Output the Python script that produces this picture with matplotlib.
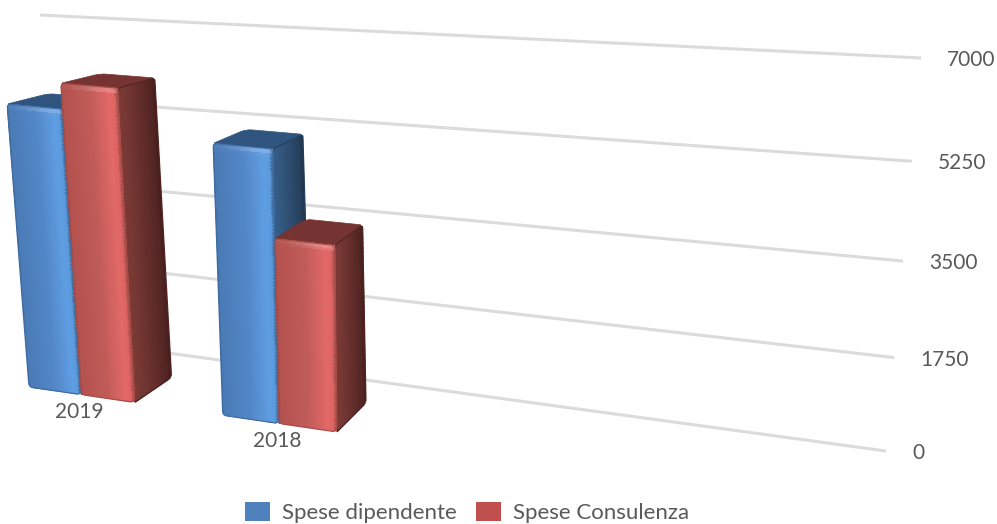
import numpy as np
import matplotlib
matplotlib.use('Agg')
import matplotlib.pyplot as plt
from matplotlib.patches import Patch, PathPatch
from matplotlib.path import Path
from matplotlib.colors import to_rgb

plt.rcParams['font.family'] = ['Lato', 'DejaVu Sans']

categories = ['2019', '2018']
series_names = ['Spese dipendente', 'Spese Consulenza']
spese_dipendente = [5560, 5190]
spese_consulenza = [6030, 3560]
ticks = [0, 1750, 3500, 5250, 7000]
tick_labels = ['0', '1750', '3500', '5250', '7000']

VMAX = 7000
TEXT = '#595959'
GRID = '#dbdbdb'
LEGEND_COLORS = ['#4f81bd', '#c0504d']

# colour stops across each face: front, side, top
FACE_COLORS = [
    {'front': [(0, '#3c6798'), (0.04, '#4a7bb6'), (0.5, '#5286c6'), (0.86, '#5f9de2'), (0.95, '#5c9ade'), (1, '#3a6694')],
     'side': [(0, '#375f8d'), (0.25, '#33587f'), (0.9, '#263f5c'), (1, '#1f344d')],
     'top': '#2f547d', 'edge': '#3f6c9f'},
    {'front': [(0, '#984442'), (0.04, '#b4524f'), (0.5, '#c05b58'), (0.86, '#e26967'), (0.95, '#dc6461'), (1, '#a34c49')],
     'side': [(0, '#7e3a36'), (0.25, '#743633'), (0.9, '#522523'), (1, '#451e1c')],
     'top': '#753431', 'edge': '#a84c49'},
]


def homography(src, dst):
    a = []
    b = []
    for (x, y), (px, py) in zip(src, dst):
        a.append([x, y, 1, 0, 0, 0, -px * x, -px * y])
        a.append([0, 0, 0, x, y, 1, -py * x, -py * y])
        b += [px, py]
    return np.append(np.linalg.solve(np.array(a, float), np.array(b, float)), 1).reshape(3, 3)


def project(h, u, v):
    u, v = np.broadcast_arrays(np.asarray(u, float), np.asarray(v, float))
    w = h[2, 0] * u + h[2, 1] * v + h[2, 2]
    return (h[0, 0] * u + h[0, 1] * v + h[0, 2]) / w, (h[1, 0] * u + h[1, 1] * v + h[1, 2]) / w


# perspective planes in slot units (one bar wide) and data values
SLOTS = 5.6
corners = [(0, 0), (SLOTS, 0), (0, VMAX), (SLOTS, VMAX)]
FRONT = homography(corners, [(29, 387), (337, 432), (1, 25), (333, 50)])
BACK = homography(corners, [(69, 364), (366, 403), (43, 19), (359, 41)])
WALL = homography([(0, 0), (1, 0), (0, VMAX), (1, VMAX)], [(58, 338), (886, 451), (40, 15), (921, 58)])
GROUP_START = [0, 3.6]


def point(u, v, d):
    fx, fy = project(FRONT, u, v)
    bx, by = project(BACK, u, v)
    return (1 - d) * fx + d * bx, (1 - d) * fy + d * by


def ramp(stops, s):
    pos = [p for p, _ in stops]
    rgb = np.array([to_rgb(c) for _, c in stops])
    return np.stack([np.interp(s, pos, rgb[:, i]) for i in range(3)], axis=-1)


def rounded(pts, radii):
    verts = []
    codes = []
    n = len(pts)
    for i in range(n):
        p = np.array(pts[i], float)
        a = np.array(pts[i - 1], float)
        c = np.array(pts[(i + 1) % n], float)
        r = radii[i]
        p1 = p + (a - p) / np.linalg.norm(a - p) * r
        p2 = p + (c - p) / np.linalg.norm(c - p) * r
        verts += [p1, p, p2]
        codes += [Path.LINETO if i else Path.MOVETO, Path.CURVE3, Path.CURVE3]
    verts.append(verts[0])
    codes.append(Path.CLOSEPOLY)
    return Path(verts, codes)


def draw_face(ax, X, Y, C, outline, edge, zorder):
    mesh = ax.pcolormesh(X, Y, C, edgecolors='face', linewidth=0.3, zorder=zorder)
    clip = PathPatch(outline, transform=ax.transData, fc='none', ec='none')
    ax.add_patch(clip)
    mesh.set_clip_path(clip)
    # soft stroke hides the hard pixels of the clip path
    ax.add_patch(PathPatch(outline, fc='none', ec=edge, lw=0.9, zorder=zorder + 0.05))


def draw_bar(ax, u0, value, colors, zorder):
    u1 = u0 + 1
    # top face
    tl = point(u0, value, 0)
    tr = point(u1, value, 0)
    bl = point(u0, value, 1)
    br = point(u1, value, 1)
    top = rounded([tl, tr, br, bl], [2, 3, 3, 6])
    ax.add_patch(PathPatch(top, fc=colors['top'], ec=colors['top'], lw=0.5, zorder=zorder))

    # side face, shaded from the front edge to the back edge
    d = np.linspace(0, 1, 31)
    vv = np.linspace(0, value, 41)
    D, V = np.meshgrid(d, vv)
    X, Y = point(u1, V, D)
    s = (D[:-1, :-1] + D[1:, 1:]) / 2
    C = ramp(colors['side'], s)
    side_pts = [point(u1, 0, 0), point(u1, 0, 1), point(u1, value, 1), point(u1, value, 0)]
    draw_face(ax, X, Y, C, rounded(side_pts, [1, 4, 3, 2]), colors['side'][2][1], zorder + 0.1)

    # front face with a light bevel along the top edge
    uu = np.linspace(u0, u1, 61)
    vv = np.linspace(0, value, 81)
    U, V = np.meshgrid(uu, vv)
    X, Y = point(U, V, 0)
    s = ((U[:-1, :-1] + U[1:, 1:]) / 2 - u0)
    t = (V[:-1, :-1] + V[1:, 1:]) / 2
    C = ramp(colors['front'], s)
    glow = np.clip(1 - (value - t) / 110, 0, 1) * np.clip(1.2 - np.abs(s - 0.8) * 1.6, 0.2, 1)
    C = C + (1 - C) * 0.28 * glow[..., None]
    front_pts = [point(u0, 0, 0), point(u1, 0, 0), point(u1, value, 0), point(u0, value, 0)]
    draw_face(ax, X, Y, C, rounded(front_pts, [4, 5, 3, 4]), colors['edge'], zorder + 0.2)


fig = plt.figure(figsize=(9.97, 5.24), dpi=100)
ax = fig.add_axes([0, 0, 1, 1])
ax.set_xlim(0, 997)
ax.set_ylim(524, 0)
ax.axis('off')

# back wall gridlines with the tick labels at their right end
for tick, label in zip(ticks, tick_labels):
    x, y = project(WALL, [0, 1], [tick, tick])
    ax.plot(x, y, color=GRID, lw=2.2, solid_capstyle='butt', zorder=1)
    ax.annotate(label, (x[1], y[1]), xytext=(18.8, -1.5), textcoords='offset points',
                fontsize=15, color=TEXT, ha='left', va='center', zorder=5)

# bars, left group first
z = 2
for i, cat in enumerate(categories):
    values = [spese_dipendente[i], spese_consulenza[i]]
    for j, val in enumerate(values):
        draw_bar(ax, GROUP_START[i] + j, val, FACE_COLORS[j], z)
        z += 1
    x, y = project(FRONT, GROUP_START[i] + 1, 0)
    ax.annotate(cat, (x, y), xytext=(-1.6, -12.5), textcoords='offset points',
                fontsize=15, color=TEXT, ha='center', va='center', zorder=z)

handles = [Patch(fc=c, ec='none', label=n) for c, n in zip(LEGEND_COLORS, series_names)]
legend = ax.legend(handles=handles, ncol=2, loc='lower left', bbox_to_anchor=(245, 523),
                   bbox_transform=ax.transData, frameon=False, fontsize=16, labelcolor=TEXT,
                   borderpad=0, borderaxespad=0, handlelength=1.12, handleheight=0.99,
                   handletextpad=0.54, columnspacing=0.86)

fig.savefig('out.png', dpi=100)
